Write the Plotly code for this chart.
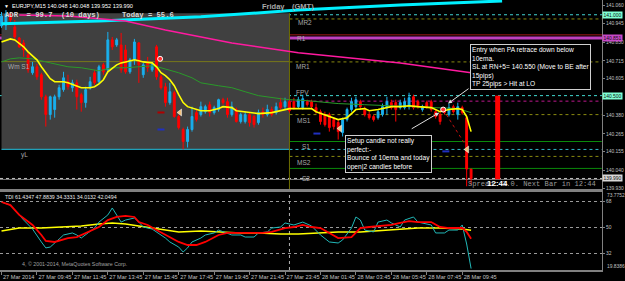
import plotly.graph_objects as go

# ---------------- data ----------------
time_labels = ["27 Mar 2014", "27 Mar 09:45", "27 Mar 11:45", "27 Mar 13:45", "27 Mar 15:45",
               "27 Mar 17:45", "27 Mar 19:45", "27 Mar 21:45", "27 Mar 23:45", "28 Mar 01:45",
               "28 Mar 03:45", "28 Mar 05:45", "28 Mar 07:45", "28 Mar 09:45"]
label_bars = [0, 8, 16, 24, 32, 40, 48, 56, 64, 72, 80, 88, 96, 104]

open_ = [
    140.931, 140.937, 141.005, 140.925, 140.857, 140.826, 140.753, 140.642, 140.679, 140.630,
    140.494, 140.384, 140.415, 140.494, 140.538, 140.587, 140.550, 140.580, 140.507, 140.458,
    140.550, 140.642, 140.587, 140.691, 140.660, 140.845, 140.814, 140.814, 140.783, 140.648,
    140.722, 140.826, 140.630, 140.703, 140.660, 140.802, 140.617, 140.556, 140.458, 140.519,
    140.372, 140.292, 140.218, 140.292, 140.396, 140.384, 140.402, 140.445, 140.396, 140.415,
    140.476, 140.464, 140.384, 140.415, 140.341, 140.341, 140.384, 140.372, 140.335, 140.402,
    140.384, 140.415, 140.396, 140.458, 140.433, 140.464, 140.464, 140.433, 140.427, 140.464,
    140.464, 140.427, 140.402, 140.384, 140.384, 140.353, 140.335, 140.273, 140.353, 140.415,
    140.433, 140.464, 140.415, 140.384, 140.372, 140.365, 140.384, 140.427, 140.458, 140.458,
    140.427, 140.427, 140.433, 140.494, 140.464, 140.415, 140.458, 140.464, 140.402, 140.384,
    140.415, 140.384, 140.433, 140.384, 140.427, 140.365, 140.048]
high_ = [
    141.017, 141.029, 141.017, 140.968, 140.863, 140.845, 140.771, 140.709, 140.697, 140.642,
    140.507, 140.501, 140.507, 140.568, 140.648, 140.630, 140.599, 140.599, 140.519, 140.556,
    140.617, 140.660, 140.691, 140.703, 140.894, 140.863, 140.857, 140.888, 140.814, 140.734,
    140.851, 140.832, 140.703, 140.740, 140.709, 140.814, 140.630, 140.580, 140.580, 140.531,
    140.384, 140.304, 140.310, 140.433, 140.415, 140.464, 140.445, 140.464, 140.439, 140.482,
    140.488, 140.488, 140.464, 140.427, 140.396, 140.402, 140.396, 140.384, 140.415, 140.427,
    140.445, 140.433, 140.458, 140.488, 140.488, 140.476, 140.488, 140.494, 140.507, 140.476,
    140.476, 140.452, 140.415, 140.402, 140.396, 140.365, 140.353, 140.365, 140.427, 140.488,
    140.494, 140.476, 140.433, 140.402, 140.384, 140.415, 140.452, 140.494, 140.476, 140.476,
    140.476, 140.488, 140.519, 140.507, 140.476, 140.445, 140.470, 140.476, 140.415, 140.396,
    140.427, 140.452, 140.445, 140.458, 140.439, 140.378, 140.048]
low_ = [
    140.919, 140.906, 140.955, 140.845, 140.796, 140.740, 140.642, 140.630, 140.599, 140.476,
    140.310, 140.353, 140.365, 140.476, 140.525, 140.538, 140.525, 140.415, 140.402, 140.427,
    140.538, 140.568, 140.574, 140.630, 140.648, 140.783, 140.802, 140.642, 140.636, 140.636,
    140.691, 140.580, 140.611, 140.648, 140.648, 140.599, 140.538, 140.433, 140.445, 140.365,
    140.292, 140.169, 140.181, 140.279, 140.341, 140.372, 140.390, 140.372, 140.384, 140.402,
    140.445, 140.365, 140.372, 140.335, 140.329, 140.329, 140.310, 140.304, 140.322, 140.365,
    140.372, 140.372, 140.384, 140.415, 140.415, 140.396, 140.415, 140.421, 140.415, 140.433,
    140.415, 140.390, 140.322, 140.310, 140.279, 140.292, 140.230, 140.249, 140.341, 140.402,
    140.421, 140.415, 140.372, 140.353, 140.341, 140.353, 140.372, 140.384, 140.415, 140.341,
    140.415, 140.415, 140.415, 140.415, 140.421, 140.402, 140.421, 140.402, 140.359, 140.322,
    140.384, 140.372, 140.390, 140.353, 140.384, 139.942, 139.952]
close_ = [
    140.992, 141.005, 140.968, 140.863, 140.802, 140.783, 140.660, 140.679, 140.617, 140.494,
    140.384, 140.494, 140.494, 140.550, 140.611, 140.556, 140.580, 140.494, 140.458, 140.538,
    140.587, 140.580, 140.679, 140.648, 140.845, 140.802, 140.845, 140.660, 140.648, 140.722,
    140.832, 140.691, 140.691, 140.673, 140.691, 140.617, 140.550, 140.458, 140.525, 140.372,
    140.304, 140.218, 140.292, 140.372, 140.353, 140.433, 140.433, 140.396, 140.427, 140.476,
    140.458, 140.384, 140.433, 140.341, 140.384, 140.384, 140.335, 140.322, 140.396, 140.384,
    140.415, 140.384, 140.433, 140.427, 140.464, 140.408, 140.427, 140.476, 140.482, 140.445,
    140.433, 140.402, 140.341, 140.322, 140.304, 140.310, 140.279, 140.353, 140.415, 140.464,
    140.476, 140.433, 140.384, 140.365, 140.353, 140.402, 140.433, 140.464, 140.427, 140.415,
    140.458, 140.464, 140.488, 140.427, 140.433, 140.433, 140.433, 140.415, 140.372, 140.341,
    140.396, 140.427, 140.402, 140.433, 140.396, 140.048, 139.990]
bars = list(range(len(close_)))

ema_bars = [0, 2, 3, 4, 5, 6, 8, 9, 10, 11, 12, 13, 14, 15, 17, 18, 19, 20, 21, 22,
            23, 24, 26, 27, 28, 30, 31, 32, 34, 35, 36, 37, 38, 39, 40, 41, 42, 44, 45, 47,
            49, 50, 52, 53, 55, 56, 58, 61, 63, 65, 67, 70, 71, 73, 75, 76, 78, 79, 80, 82,
            83, 85, 88, 90, 92, 94, 97, 99, 101, 103, 104, 105, 106]
ema_vals = [140.832, 140.851, 140.845, 140.826, 140.802, 140.771, 140.722, 140.679, 140.642, 140.605,
            140.587, 140.587, 140.587, 140.580, 140.562, 140.550, 140.550, 140.550, 140.556, 140.574,
            140.599, 140.648, 140.691, 140.703, 140.709, 140.722, 140.716, 140.709, 140.703, 140.679,
            140.642, 140.624, 140.599, 140.562, 140.507, 140.458, 140.433, 140.415, 140.408, 140.408,
            140.421, 140.433, 140.427, 140.408, 140.402, 140.396, 140.390, 140.396, 140.408, 140.421,
            140.421, 140.421, 140.402, 140.384, 140.365, 140.353, 140.365, 140.390, 140.415, 140.421,
            140.408, 140.415, 140.433, 140.433, 140.439, 140.433, 140.427, 140.402, 140.415, 140.421,
            140.415, 140.372, 140.279]
sma_bars = [0, 2, 4, 7, 11, 15, 18, 22, 25, 28, 31, 34, 36, 40, 43, 45, 49, 52, 55, 58,
            63, 65, 69, 73, 76, 82, 92, 103, 106]
sma_vals = [140.709, 140.728, 140.734, 140.728, 140.703, 140.679, 140.673, 140.654, 140.673, 140.673,
            140.679, 140.685, 140.673, 140.642, 140.611, 140.580, 140.562, 140.550, 140.525, 140.501,
            140.482, 140.476, 140.470, 140.458, 140.452, 140.445, 140.433, 140.421, 140.396]
trend_bars = [0, 22, 45, 67, 90, 113]
trend_vals = [140.944, 140.962, 140.987, 141.029, 141.060, 141.085]
magenta_bars = [4, 15, 28, 37, 52, 67, 90, 106]
magenta_vals = [140.999, 140.992, 140.962, 140.906, 140.826, 140.765, 140.703, 140.642]

pivot_names = ["MR2", "R1", "MR1", "FPV", "MS1", "S1", "MS2", "S2"]
pivot_values = [140.974, 140.857, 140.709, 140.501, 140.384, 140.218, 140.126, 140.052]
round_level = 141.000
r1_edge_level = 140.876
wm_s1_level = 140.711
y_high_level = 141.010
y_low_level = 140.169
pink_level = 140.467
bid_level = 139.990
grey_level = 139.984
day_start_bar = 65

price_ticks = [141.060, 140.945, 140.830, 140.715, 140.605, 140.380, 140.265, 140.155, 140.040, 139.930]
flag_values = [141.000, 140.851, 140.500, 139.990]

timer_bar = [112, 112]
timer_vals = [139.985, 140.501]

signal_dot_bars = [35.8, 99.7]
signal_dot_vals = [140.728, 140.415]
arrow_bars = [40.3, 76.4, 105.1]
arrow_vals = [140.397, 140.298, 140.169]
red_dash_bars = [36.0]
red_dash_vals = [140.397]
navy_dash_bars = [36.0, 71.2, 100.3]
navy_dash_vals = [140.292, 140.267, 140.157]
trendline_bars = [99.7, 105.1]
trendline_vals = [140.415, 140.181]

rsi_bars = [0, 2, 4, 5, 7, 8, 9, 10, 11, 13, 14, 16, 17, 18, 19, 21, 22, 24, 25, 26,
            27, 28, 30, 31, 32, 34, 35, 37, 38, 40, 41, 42, 43, 45, 46, 48, 49, 51, 52, 54,
            55, 57, 58, 60, 61, 63, 64, 66, 68, 70, 72, 74, 76, 77, 79, 80, 81, 82, 84, 85,
            87, 88, 90, 91, 93, 94, 95, 97, 98, 100, 101, 103, 104, 105, 106]
rsi_vals = [67.3, 65.2, 58.4, 54.9, 48.7, 43.9, 39.8, 35.7, 36.3, 41.8,
            44.6, 46.0, 44.6, 42.5, 44.6, 49.4, 53.5, 58.4, 63.2, 58.4,
            53.5, 54.9, 56.3, 53.5, 50.1, 48.7, 46.7, 42.5, 39.8, 36.3,
            32.9, 35.7, 39.8, 42.5, 44.6, 46.0, 48.0, 46.0, 44.6, 44.6,
            43.2, 43.2, 46.0, 46.7, 49.4, 50.1, 52.9, 51.5, 53.5, 50.8,
            44.6, 39.8, 39.1, 41.2, 49.4, 57.0, 54.9, 48.0, 46.7, 53.5,
            54.9, 52.9, 50.1, 54.9, 57.0, 53.5, 52.9, 51.5, 46.0, 46.0,
            48.0, 48.0, 51.5, 38.4, 21.5]
sig_bars = [0, 2, 4, 7, 9, 10, 12, 15, 17, 19, 22, 24, 26, 28, 30, 31, 33, 35, 37, 40,
            42, 44, 46, 49, 51, 54, 57, 59, 61, 64, 66, 68, 70, 72, 74, 76, 79, 81, 83, 85,
            88, 90, 92, 94, 97, 99, 101, 104, 105, 106]
sig_vals = [67.3, 65.2, 58.4, 51.5, 44.6, 40.5, 39.8, 42.5, 43.2, 46.0,
            50.1, 54.9, 57.0, 57.7, 57.0, 53.5, 51.5, 48.0, 44.6, 39.8,
            37.7, 37.7, 39.8, 44.6, 46.0, 46.0, 46.0, 46.0, 46.7, 49.4,
            50.1, 51.5, 50.1, 49.4, 46.0, 42.5, 43.2, 49.4, 50.1, 50.8,
            51.5, 52.9, 54.2, 53.5, 53.5, 50.1, 49.4, 49.4, 46.7, 42.0]
base_bars = [0, 4, 9, 13, 18, 22, 25, 28, 31, 36, 40, 45, 49, 54, 58, 63, 67, 72, 76, 81,
             85, 90, 94, 99, 104, 106]
base_vals = [47.4, 49.4, 49.4, 50.1, 50.8, 52.2, 52.9, 52.2, 50.8, 48.7, 46.7, 47.4, 46.7, 46.0,
             46.0, 45.3, 45.3, 46.0, 46.7, 46.7, 47.4, 48.7, 49.4, 49.4, 48.7, 47.9]
tdi_levels = [68, 50, 32]
tdi_top, tdi_bottom = 73.7752, 19.8386
tdi_header = [61.4347, 47.8839, 34.3331, 34.0132, 42.0494]

# ---------------- geometry ----------------
W, H = 625, 281
ML, MR, MT, MB = 0, 23, 0, 11
PW, PH = W - ML - MR, H - MT - MB


def px(x):
    return x / PW


def py(y):
    return 1 - y / PH


GREY_TXT = "#c0c0c0"
FONT = "Liberation Sans"
MONO = "Liberation Mono"
AX_FS = 4.9

fig = go.Figure()

# candles
fig.add_trace(go.Candlestick(
    x=bars, open=open_, high=high_, low=low_, close=close_,
    increasing=dict(line=dict(color="#19b0ee", width=1), fillcolor="#19b0ee"),
    decreasing=dict(line=dict(color="#ff0000", width=1), fillcolor="#ff0000"),
    xaxis="x", yaxis="y", hoverinfo="skip", showlegend=False))

fig.add_trace(go.Scatter(x=sma_bars, y=sma_vals, mode="lines",
                         line=dict(color="#2a9a2a", width=1), xaxis="x", yaxis="y",
                         hoverinfo="skip", showlegend=False))
fig.add_trace(go.Scatter(x=ema_bars, y=ema_vals, mode="lines",
                         line=dict(color="#ffff00", width=1.6), xaxis="x", yaxis="y",
                         hoverinfo="skip", showlegend=False))
fig.add_trace(go.Scatter(x=trend_bars, y=trend_vals, mode="lines",
                         line=dict(color="#00f0ff", width=3), xaxis="x", yaxis="y",
                         hoverinfo="skip", showlegend=False))
fig.add_trace(go.Scatter(x=magenta_bars, y=magenta_vals, mode="lines",
                         line=dict(color="#ff1aa0", width=1.5), xaxis="x", yaxis="y",
                         hoverinfo="skip", showlegend=False))
fig.add_trace(go.Scatter(x=timer_bar, y=timer_vals, mode="lines",
                         line=dict(color="#ff0000", width=5), xaxis="x", yaxis="y",
                         hoverinfo="skip", showlegend=False))
fig.add_trace(go.Scatter(x=trendline_bars, y=trendline_vals, mode="lines",
                         line=dict(color="#c01010", width=1, dash="dot"), xaxis="x", yaxis="y",
                         hoverinfo="skip", showlegend=False))
fig.add_trace(go.Scatter(x=signal_dot_bars, y=signal_dot_vals, mode="markers",
                         marker=dict(symbol="circle", size=5, color="#ff3030",
                                     line=dict(color="#ffffff", width=1)),
                         xaxis="x", yaxis="y", hoverinfo="skip", showlegend=False))
fig.add_trace(go.Scatter(x=arrow_bars, y=arrow_vals, mode="markers",
                         marker=dict(symbol="triangle-left", size=6, color="#f5c27a",
                                     line=dict(color="#ffffff", width=0.5)),
                         xaxis="x", yaxis="y", hoverinfo="skip", showlegend=False))
fig.add_trace(go.Scatter(x=red_dash_bars, y=red_dash_vals, mode="markers",
                         marker=dict(symbol="line-ew", size=5, line=dict(color="#b00000", width=2)),
                         xaxis="x", yaxis="y", hoverinfo="skip", showlegend=False))
fig.add_trace(go.Scatter(x=navy_dash_bars, y=navy_dash_vals, mode="markers",
                         marker=dict(symbol="line-ew", size=5, line=dict(color="#2030c0", width=2)),
                         xaxis="x", yaxis="y", hoverinfo="skip", showlegend=False))

# TDI
fig.add_trace(go.Scatter(x=base_bars, y=base_vals, mode="lines",
                         line=dict(color="#ffff00", width=1.6), xaxis="x2", yaxis="y2",
                         hoverinfo="skip", showlegend=False))
fig.add_trace(go.Scatter(x=rsi_bars, y=rsi_vals, mode="lines",
                         line=dict(color="#22b8b8", width=1), xaxis="x2", yaxis="y2",
                         hoverinfo="skip", showlegend=False))
fig.add_trace(go.Scatter(x=sig_bars, y=sig_vals, mode="lines",
                         line=dict(color="#ff0000", width=1.8), xaxis="x2", yaxis="y2",
                         hoverinfo="skip", showlegend=False))

# ---------------- shapes ----------------
shapes = []
shapes.append(dict(type="rect", xref="x", yref="y", x0=0, x1=day_start_bar,
                   y0=y_low_level, y1=y_high_level, fillcolor="#404040",
                   line=dict(width=0), layer="below"))


def hline(val, color, dash="solid", width=1, start=None):
    if start is None:
        return dict(type="line", xref="paper", yref="y", x0=0, x1=1, y0=val, y1=val,
                    line=dict(color=color, width=width, dash=dash), layer="below")
    return dict(type="line", xref="x", yref="y", x0=start[0], x1=start[1], y0=val, y1=val,
                line=dict(color=color, width=width, dash=dash), layer="below")


XEND = 135.5
shapes.append(hline(round_level, "#40d0d0", "dot"))
shapes.append(hline(r1_edge_level, "#a01818", "solid", 1))
shapes.append(hline(wm_s1_level, "#77771a", "solid", 1, (0, day_start_bar)))
shapes.append(hline(y_low_level, "#20a0b8", "solid", 1.2, (0, day_start_bar)))
shapes.append(hline(y_low_level, "#30b8c8", "dot", 1, (day_start_bar, XEND)))
shapes.append(hline(pink_level, "#c01890", "dot", 1, (day_start_bar, XEND)))
pivot_styles = {
    "MR2": ("#8a8a10", "dot", 1, "day"),
    "R1": ("#c040c0", "solid", 3, "full"),
    "MR1": ("#8a8a10", "dot", 1, "day"),
    "FPV": ("#40d8d0", "dot", 1, "full"),
    "MS1": ("#8a8a10", "dot", 1, "day"),
    "S1": ("#0a8a0a", "solid", 1, "day"),
    "MS2": ("#8a8a10", "dot", 1, "day"),
    "S2": ("#0a8a0a", "solid", 1, "day"),
}
for name, val in zip(pivot_names, pivot_values):
    c, d, w, ext = pivot_styles[name]
    if ext == "full":
        shapes.append(hline(val, c, d, w))
    else:
        shapes.append(hline(val, c, d, w, (day_start_bar, XEND)))
shapes.append(hline(bid_level, "#c8c8c8", "dot", 1))
shapes.append(hline(grey_level, "#7a7a7a", "solid", 1))
# day separators
shapes.append(dict(type="line", xref="x", yref="y", x0=day_start_bar, x1=day_start_bar,
                   y0=139.925, y1=y_high_level, line=dict(color="#6e6e00", width=1), layer="below"))
shapes.append(dict(type="line", xref="x2", yref="y2", x0=day_start_bar, x1=day_start_bar,
                   y0=20.5, y1=74.2, line=dict(color="#b0b0b0", width=1, dash="dot"), layer="below"))

# ---------------- annotations ----------------
ann = []


def txt(s, x, y, size, color, family=FONT, xanchor="left", **kw):
    d = dict(text=s, x=px(x), y=py(y), xref="paper", yref="paper", xanchor=xanchor,
             yanchor="middle", showarrow=False, font=dict(size=size, color=color, family=family))
    d.update(kw)
    return d


ann.append(txt("▼", 2, 6, 5, "#ffffff"))
ann.append(txt("EURJPY,M15 %.3f %.3f %.3f %.3f" % (open_[-1], high_[-1], low_[-1], close_[-1]),
               10, 6, 5.6, "#ffffff"))
ann.append(txt("<b>Friday</b>", 273, 6, 7.5, "#a8a8a8", xanchor="center"))
ann.append(txt("<b>(GMT)</b>", 303, 6, 7.5, "#a8a8a8", xanchor="center"))
ann.append(txt("<b>ADR  = 99.7  (10 days)</b>", 3, 15, 7.2, "#d8d8d8", family=MONO))
ann.append(txt("<b>Today = 55.6</b>", 120, 15, 7.2, "#d8d8d8", family=MONO))
ann.append(txt("Wm S1", 6, 67, 6.5, "#a8a8a8"))
ann.append(txt("yL", 19, 155, 6.5, "#a8a8a8"))

label_pos = {"MR2": (296, 22), "R1": (295, 39), "MR1": (294, 66), "FPV": (294, 92),
             "MS1": (295, 120), "S1": (300, 146), "MS2": (295, 162), "S2": (300, 178)}
for name in pivot_names:
    lx, ly = label_pos[name]
    ann.append(txt(name, lx, ly, 6.5, "#a8a8a8"))

box1 = ("Entry when PA retrace down below<br>10ema.<br>SL at RN+5= 140.550 (Move to BE after"
        "<br>15pips)<br>TP 25pips > Hit at LO")
ann.append(dict(text=box1, x=px(470), y=py(44), xref="paper", yref="paper", xanchor="left",
                yanchor="top", showarrow=False, align="left", bgcolor="#000000",
                bordercolor="#d0d0d0", borderwidth=1, borderpad=1,
                font=dict(size=6.6, color="#ffffff", family=FONT)))
box2 = "Setup candle not really<br>perfect:-<br>Bounce of 10ema and today<br>open|2 candles before"
ann.append(dict(text=box2, x=px(345), y=py(135), xref="paper", yref="paper", xanchor="left",
                yanchor="top", showarrow=False, align="left", bgcolor="#000000",
                bordercolor="#d0d0d0", borderwidth=1, borderpad=1,
                font=dict(size=6.6, color="#ffffff", family=FONT)))
ann.append(dict(text="", x=100.8, y=140.452, xref="x", yref="y", showarrow=True, arrowhead=2,
                arrowsize=0.8, arrowwidth=1, arrowcolor="#e0e0e0", ax=22, ay=-16))
ann.append(dict(text="", x=98.8, y=140.396, xref="x", yref="y", showarrow=True, arrowhead=2,
                arrowsize=0.8, arrowwidth=1, arrowcolor="#e0e0e0", ax=-29, ay=17))

ann.append(txt("Spread: 3.0. Next Bar in 12:44", 466, 184, 7.1, "#9a9a9a", family=MONO))
ann.append(txt("<b>12:44</b>", 497, 183, 8, "#ffffff", xanchor="center"))

flag_colors = ["#7fffd4", "#c848c8", "#7fffd4", "#d8d8d8"]
flag_shift = [0, 1, 0, 0]
for v, c, s in zip(flag_values, flag_colors, flag_shift):
    ann.append(dict(text="%.3f" % v, x=1.0, y=v, xref="paper", yref="y", xanchor="left",
                    yanchor="middle", showarrow=False, bgcolor=c, borderpad=0.5, yshift=s,
                    font=dict(size=AX_FS, color="#101010", family=FONT)))

ann.append(txt("TDI " + " ".join("%.4f" % v for v in tdi_header), 3, 197, 5.3, "#e8e8e8"))
ann.append(txt("4, © 2001-2014, MetaQuotes Software Corp.", 20, 264, 5.3, "#a0a0a0"))
ann.append(txt("%.4f" % tdi_top, 605, 195.7, AX_FS, GREY_TXT))
ann.append(txt("%.4f" % tdi_bottom, 605, 266.7, AX_FS, GREY_TXT))

# ---------------- layout ----------------
AXC = "#808080"
fig.update_layout(
    width=W, height=H, margin=dict(l=ML, r=MR, t=MT, b=MB, autoexpand=False),
    paper_bgcolor="#000000", plot_bgcolor="#000000",
    showlegend=False, hovermode=False, boxgap=0.4,
    shapes=shapes, annotations=ann,
    xaxis=dict(domain=[0, 1], anchor="y", range=[-0.34, 135.55], showticklabels=False,
               showgrid=False, zeroline=False, showline=True, linecolor=AXC, linewidth=2,
               rangeslider=dict(visible=False), ticks="", automargin=False),
    xaxis2=dict(domain=[0, 1], anchor="y2", matches="x", range=[-0.34, 135.55],
                tickvals=label_bars, ticktext=time_labels, ticklabelposition="outside right",
                tickangle=0, ticks="outside", ticklen=3, tickcolor=AXC,
                tickfont=dict(size=5.6, color=GREY_TXT, family=FONT),
                showgrid=False, zeroline=False, showline=True, mirror=True,
                linecolor=AXC, linewidth=2, automargin=False),
    yaxis=dict(domain=[py(189), 1], anchor="x", range=[139.925, 141.091], side="right",
               tickvals=price_ticks, ticktext=["%.3f" % v for v in price_ticks],
               ticks="outside", ticklen=2, tickcolor=AXC,
               tickfont=dict(size=AX_FS, color=GREY_TXT, family=FONT),
               showgrid=False, zeroline=False, showline=True, linecolor=AXC, linewidth=1,
               automargin=False),
    yaxis2=dict(domain=[0, py(192)], anchor="x2", range=[20.5, 74.2], side="right",
                tickvals=tdi_levels, ticktext=[str(v) for v in tdi_levels],
                ticks="outside", ticklen=2, tickcolor=AXC,
                tickfont=dict(size=AX_FS, color=GREY_TXT, family=FONT),
                showgrid=True, gridcolor="#9a9a9a", griddash="dot", gridwidth=1,
                zeroline=False, showline=True, linecolor=AXC, linewidth=1, automargin=False),
)

fig.write_html("out.html")
